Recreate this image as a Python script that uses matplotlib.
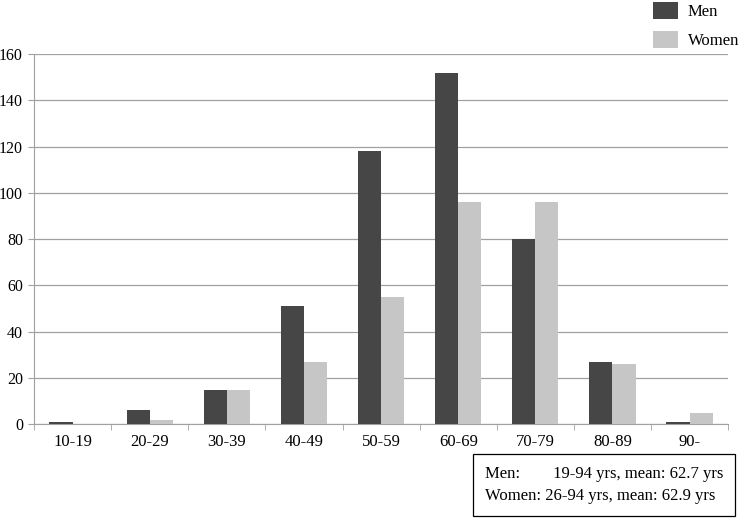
import numpy as np
import matplotlib.pyplot as plt

plt.rcParams['font.family'] = ['Liberation Serif', 'DejaVu Serif']

age_groups = ['10-19', '20-29', '30-39', '40-49', '50-59', '60-69', '70-79', '80-89', '90-']
men = [1, 6, 15, 51, 118, 152, 80, 27, 1]
women = [0, 2, 15, 27, 55, 96, 96, 26, 5]

MEN_COLOR = '#464646'
WOMEN_COLOR = '#c6c6c6'
GRID_COLOR = '#a0a0a0'

fig = plt.figure(figsize=(7.4, 5.25), dpi=100)
ax = fig.add_axes([0.046, 0.192, 0.938, 0.705])

x = np.arange(len(age_groups))
width = 0.3
ax.bar(x - width / 2, men, width=width, color=MEN_COLOR, label='Men', zorder=3)
ax.bar(x + width / 2, women, width=width, color=WOMEN_COLOR, label='Women', zorder=3)

ax.set_xlim(-0.5, len(age_groups) - 0.5)
ax.set_ylim(0, 160)
ax.set_yticks(np.arange(0, 161, 20))
ax.yaxis.grid(True, color=GRID_COLOR, linewidth=0.9, zorder=0)

ax.set_xticks(x)
ax.set_xticklabels(age_groups, fontsize=12)
ax.set_xticks(np.arange(-0.5, len(age_groups)), minor=True)
ax.tick_params(axis='x', which='major', length=0, pad=7)
ax.tick_params(axis='x', which='minor', length=4, color=GRID_COLOR)
ax.tick_params(axis='y', length=4, color=GRID_COLOR, labelsize=11.5, pad=4)

for side in ['top', 'right']:
    ax.spines[side].set_visible(False)
for side in ['left', 'bottom']:
    ax.spines[side].set_color(GRID_COLOR)

ax.legend(loc='upper left', bbox_to_anchor=(0.87, 1.18), frameon=False,
          fontsize=12, handlelength=1.5, handleheight=1.15, labelspacing=0.65,
          handletextpad=0.6)

fig.text(0.655, 0.0762,
         'Men:        19-94 yrs, mean: 62.7 yrs\nWomen: 26-94 yrs, mean: 62.9 yrs',
         fontsize=12, linespacing=1.55, va='center', ha='left',
         bbox=dict(boxstyle='square,pad=0.7', facecolor='white', edgecolor='black', linewidth=0.9))

fig.savefig('out.png', dpi=100)
